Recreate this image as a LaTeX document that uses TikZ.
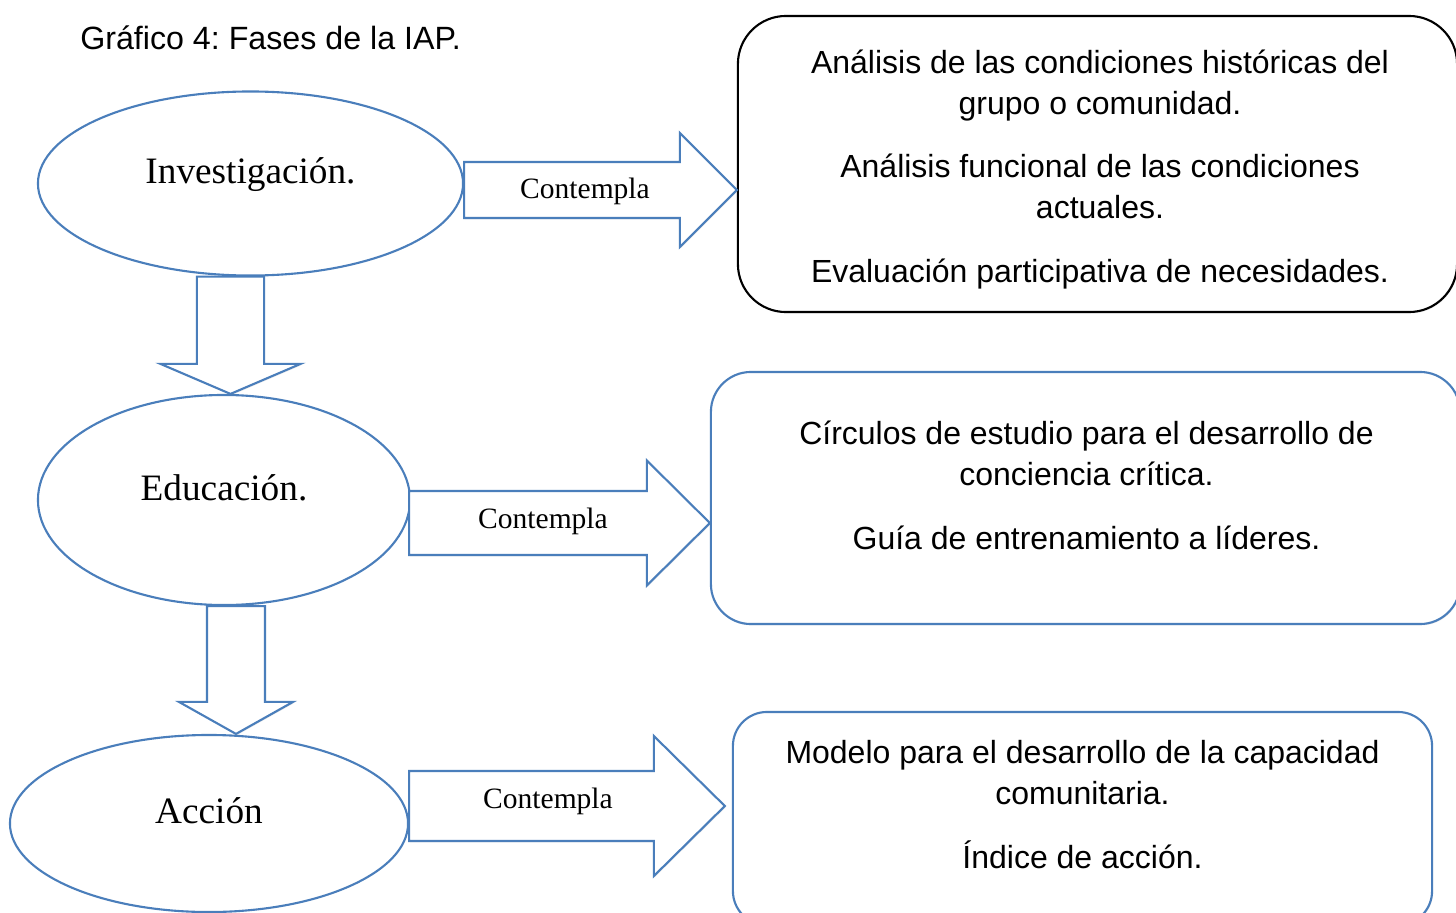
\documentclass[tikz,border=0pt]{standalone}
\usepackage{fontspec}
\setmainfont{Liberation Serif}
\newfontfamily\arialFont{Liberation Sans}
\usepackage{tikz}
\usetikzlibrary{calc, shadows, shapes.geometric}
\frenchspacing
\definecolor{ofBlue}{HTML}{4A7EBB}
\tikzstyle{fPhase} = [ellipse, draw=ofBlue, line width=1.5pt, inner sep=0pt, text height=0.5cm, text depth=0.5cm, font=\fontsize{26.5}{31}\selectfont]
\tikzstyle{fBox} = [rectangle, draw=ofBlue, line width=1.5pt, fill=white, drop shadow={shadow xshift=0.6pt, shadow yshift=-1pt, opacity=0.15}]
\tikzstyle{fText} = [align=center, inner sep=0pt, font=\arialFont\fontsize{22.75}{29.3}\selectfont]
\tikzstyle{fLabel} = [inner sep=0pt, font=\fontsize{21}{25}\selectfont]
\tikzstyle{fBlock} = [draw=ofBlue, line width=1.5pt, fill=white, line join=miter, drop shadow={shadow xshift=0.6pt, shadow yshift=-1pt, opacity=0.15}]
% block arrow: start, tip, shaft half width, head half width, head length
\newcommand{\fBlockArrow}[5]{%
    \coordinate (neck) at ($(#2)!#5!(#1)$);
    \draw [fBlock] ($(#1)!#3!90:(#2)$) -- ($(neck)!#3!90:(#2)$) -- ($(neck)!#4!90:(#2)$) -- (#2)
        -- ($(neck)!#4!-90:(#2)$) -- ($(neck)!#3!-90:(#2)$) -- ($(#1)!#3!-90:(#2)$) -- cycle;
}

\begin{document}
\begin{tikzpicture}[x=0.025cm, y=-0.025cm]
    \useasboundingbox (0,0) rectangle (1456,913);
    \clip (0,0) rectangle (1456,913);

    \node (title) [anchor=base west, inner sep=0pt, font=\arialFont\fontsize{22.9}{26}\selectfont] at (80,50) {Gráfico 4: Fases de la IAP.};

    \node (inv) [fPhase, minimum width=10.625cm, minimum height=4.6cm] at (250.5,183.5) {Investigación.};
    \node (edu) [fPhase, minimum width=9.3cm, minimum height=5.25cm] at (224,500) {Educación.};
    \node (acc) [fPhase, minimum width=9.95cm, minimum height=4.425cm] at (209,823.5) {Acción};

    \node (hist) [fBox, draw=black, rounded corners=1.2cm, minimum width=17.975cm, minimum height=7.4cm] at (1097.5,164) {};
    \node (circ) [fBox, rounded corners=1cm, minimum width=18.725cm, minimum height=6.3cm] at (1085.5,498) {};
    \node (mod) [fBox, rounded corners=0.85cm, minimum width=17.475cm, minimum height=5.325cm] at (1082.5,818.5) {};

    % anchor=base sits on the last line
    \node (histTxt) [fText, anchor=base] at (1100,282) {Análisis de las condiciones históricas del\\grupo o comunidad.\\[15.6pt]Análisis funcional de las condiciones\\actuales.\\[15.6pt]Evaluación participativa de necesidades.};
    \node (circTxt) [fText, anchor=base] at (1086.5,549) {Círculos de estudio para el desarrollo de\\conciencia crítica.\\[15.6pt]Guía de entrenamiento a líderes.};
    \node (modTxt) [fText, anchor=base] at (1082.5,868) {Modelo para el desarrollo de la capacidad\\comunitaria.\\[15.6pt]Índice de acción.};

    \coordinate (d1s) at ($(inv.south)+(-20,0)$);
    \coordinate (d1t) at (d1s |- edu.north);
    \coordinate (d2s) at ($(edu.south)+(12,0)$);
    \coordinate (d2t) at (d2s |- acc.north);
    \coordinate (r1s) at ($(inv.east)+(0,6.5)$);
    \coordinate (r1t) at (hist.west |- r1s);
    \coordinate (r2s) at ($(edu.east)+(-2,23)$);
    \coordinate (r2t) at (circ.west |- r2s);
    \coordinate (r3s) at ($(acc.east)+(0,-17.5)$);
    \coordinate (r3t) at ($(mod.west |- r3s)+(-7,0)$);

    \fBlockArrow{d1s}{d1t}{0.84cm}{1.75cm}{0.75cm}
    \fBlockArrow{d2s}{d2t}{0.725cm}{1.425cm}{0.8cm}
    \fBlockArrow{r1s}{r1t}{0.7cm}{1.425cm}{1.425cm}
    \fBlockArrow{r2s}{r2t}{0.8cm}{1.5625cm}{1.575cm}
    \fBlockArrow{r3s}{r3t}{0.875cm}{1.75cm}{1.775cm}

    \node (lbl1) [fLabel, anchor=base] at (585,198) {Contempla};
    \node (lbl2) [fLabel, anchor=base] at (543,528) {Contempla};
    \node (lbl3) [fLabel, anchor=base] at (548,808) {Contempla};
\end{tikzpicture}
\end{document}
